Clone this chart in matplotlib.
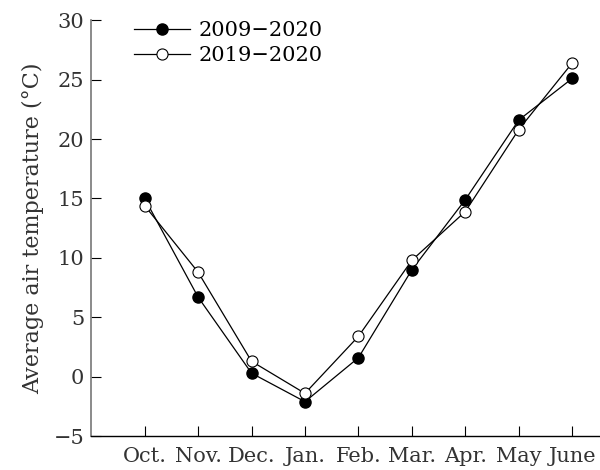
import matplotlib
matplotlib.use("Agg")
import matplotlib.pyplot as plt

months = ["Oct.", "Nov.", "Dec.", "Jan.", "Feb.", "Mar.", "Apr.", "May", "June"]
temp_2009_2020 = [15.0, 6.7, 0.3, -2.1, 1.6, 9.0, 14.9, 21.6, 25.1]
temp_2019_2020 = [14.4, 8.8, 1.3, -1.4, 3.4, 9.8, 13.9, 20.8, 26.4]

plt.rcParams["font.family"] = "DejaVu Serif"

fig = plt.figure(figsize=(6, 4.7), dpi=100)
ax = fig.add_axes([0.152, 0.072, 0.848, 0.885])

x = range(len(months))
ax.plot(x, temp_2009_2020, "-o", color="black", lw=0.9, ms=8,
        mfc="black", mec="black", label="2009\u22122020")
ax.plot(x, temp_2019_2020, "-o", color="black", lw=0.9, ms=8,
        mfc="white", mec="black", mew=0.8, label="2019\u22122020")

ax.set_xlim(-1, 8.52)
ax.set_ylim(-5, 30)
ax.set_yticks(range(-5, 31, 5))
ax.set_xticks(list(x))
ax.set_xticklabels(months)
ax.set_ylabel("Average air temperature (\u00b0C)", fontsize=16,
              color="#333333", labelpad=7)

for s in ["top", "right"]:
    ax.spines[s].set_visible(False)
ax.spines["left"].set_color("#777777")
ax.spines["left"].set_linewidth(1.2)
ax.spines["bottom"].set_linewidth(1.0)
ax.tick_params(direction="in", length=7, width=0.8, labelsize=15,
               labelcolor="#333333", pad=5)
ax.tick_params(axis="x", pad=8)

ax.legend(loc="upper left", bbox_to_anchor=(0.067, 1.018), frameon=False,
          fontsize=15, handlelength=2.7, handletextpad=0.4,
          labelspacing=0.3, borderaxespad=0)

fig.savefig("out.png", dpi=100)
